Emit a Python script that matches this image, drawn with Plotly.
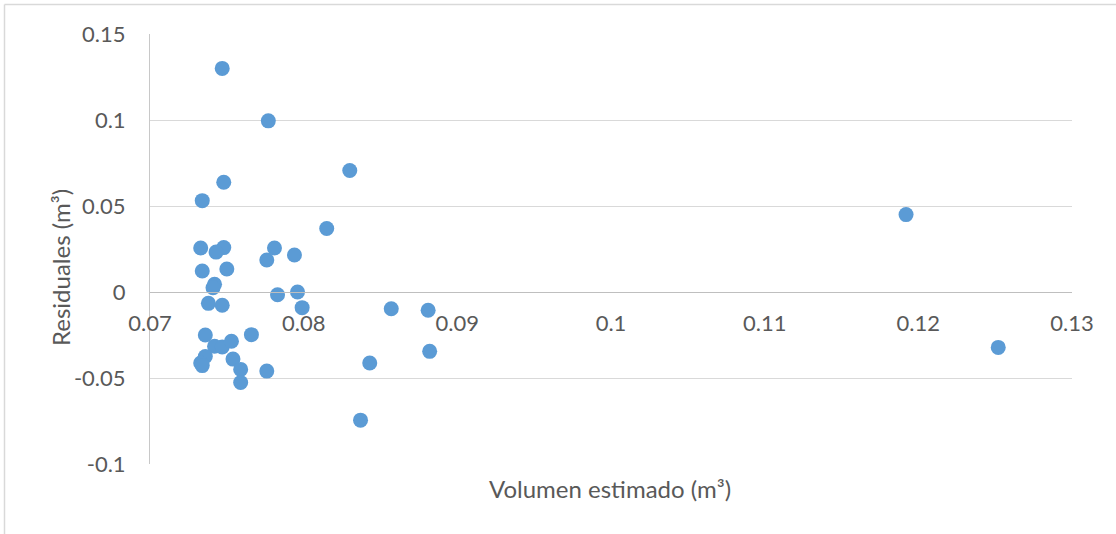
import plotly.graph_objects as go

# Estimated volume (m3) and residuals (m3)
volumen_estimado = [
    0.0747, 0.0777, 0.0830, 0.0748, 0.0734, 0.0815, 0.0733, 0.0748, 0.0743, 0.0781,
    0.0776, 0.0794, 0.0734, 0.0750, 0.0742, 0.0741, 0.0738, 0.0747, 0.0783, 0.0796,
    0.0799, 0.0857, 0.0881, 0.0736, 0.0766, 0.0742, 0.0747, 0.0753, 0.0736, 0.0733,
    0.0734, 0.0754, 0.0759, 0.0759, 0.0776, 0.0843, 0.0882, 0.0837, 0.1192, 0.1252,
]
residuales = [
    0.1300, 0.0995, 0.0706, 0.0638, 0.0531, 0.0369, 0.0256, 0.0258, 0.0232, 0.0256,
    0.0186, 0.0215, 0.0122, 0.0134, 0.0045, 0.0025, -0.0066, -0.0077, -0.0016, 0.0000,
    -0.0091, -0.0097, -0.0106, -0.0250, -0.0248, -0.0315, -0.0320, -0.0286, -0.0375, -0.0413,
    -0.0428, -0.0390, -0.0450, -0.0526, -0.0460, -0.0413, -0.0345, -0.0745, 0.0450, -0.0322,
]

x_ticks = [0.07, 0.08, 0.09, 0.10, 0.11, 0.12, 0.13]
x_labels = ["0.07", "0.08", "0.09", "0.1", "0.11", "0.12", "0.13"]
y_ticks = [0.15, 0.10, 0.05, 0.0, -0.05, -0.10]
y_labels = ["0.15", "0.1", "0.05", "0", "-0.05", "-0.1"]

W, H = 1116, 534
L, R, T, B = 150, 44, 34, 70
pw, ph = W - L - R, H - T - B

FONT = "Lato"
TXT = "#595959"
TICK_SIZE = 22
TITLE_SIZE = 24

fig = go.Figure(
    go.Scatter(
        x=volumen_estimado,
        y=residuales,
        mode="markers",
        marker=dict(size=15, color="#5B9BD5", line=dict(width=0)),
        showlegend=False,
    )
)

# x axis crosses at y = 0
y_min, y_max = -0.10, 0.15
x_pos = (0 - y_min) / (y_max - y_min)

fig.update_layout(
    width=W,
    height=H,
    margin=dict(l=L, r=R, t=T, b=B),
    paper_bgcolor="white",
    plot_bgcolor="white",
    font=dict(family=FONT, size=TICK_SIZE, color=TXT),
    xaxis=dict(
        range=[0.07, 0.13],
        tickvals=x_ticks,
        ticktext=x_labels,
        showgrid=False,
        zeroline=False,
        showline=True,
        linecolor="#BFBFBF",
        linewidth=1,
        anchor="free",
        position=x_pos,
        ticks="outside",
        ticklen=12,
        tickcolor="rgba(0,0,0,0)",
        tickfont=dict(family=FONT, size=TICK_SIZE, color=TXT),
    ),
    yaxis=dict(
        range=[y_min, y_max],
        tickvals=y_ticks,
        ticktext=y_labels,
        showgrid=True,
        gridcolor="#D9D9D9",
        gridwidth=1,
        zeroline=False,
        showline=True,
        linecolor="#C8C8C8",
        linewidth=1,
        ticks="outside",
        ticklen=19,
        tickcolor="rgba(0,0,0,0)",
        tickfont=dict(family=FONT, size=TICK_SIZE, color=TXT),
    ),
    annotations=[
        dict(
            text="Volumen estimado (m³)",
            xref="paper", yref="paper",
            x=(610 - L) / pw, y=(H - B - 488) / ph,
            xanchor="center", yanchor="middle",
            showarrow=False,
            font=dict(family=FONT, size=TITLE_SIZE, color=TXT),
        ),
        dict(
            text="Residuales (m³)",
            xref="paper", yref="paper",
            x=(60 - L) / pw, y=(H - B - 268) / ph,
            xanchor="center", yanchor="middle",
            textangle=-90,
            showarrow=False,
            font=dict(family=FONT, size=TITLE_SIZE, color=TXT),
        ),
    ],
    shapes=[
        # chart frame
        dict(type="line", xref="paper", yref="paper",
             x0=(4.5 - L) / pw, x1=(4.5 - L) / pw,
             y0=(H - B - 4.5) / ph, y1=-(B + 5) / ph,
             line=dict(color="#D9D9D9", width=1.5)),
        dict(type="line", xref="paper", yref="paper",
             x0=(4.5 - L) / pw, x1=(W + 5 - L) / pw,
             y0=(H - B - 4.5) / ph, y1=(H - B - 4.5) / ph,
             line=dict(color="#D9D9D9", width=1.5)),
    ],
)

fig.write_html("out.html")
